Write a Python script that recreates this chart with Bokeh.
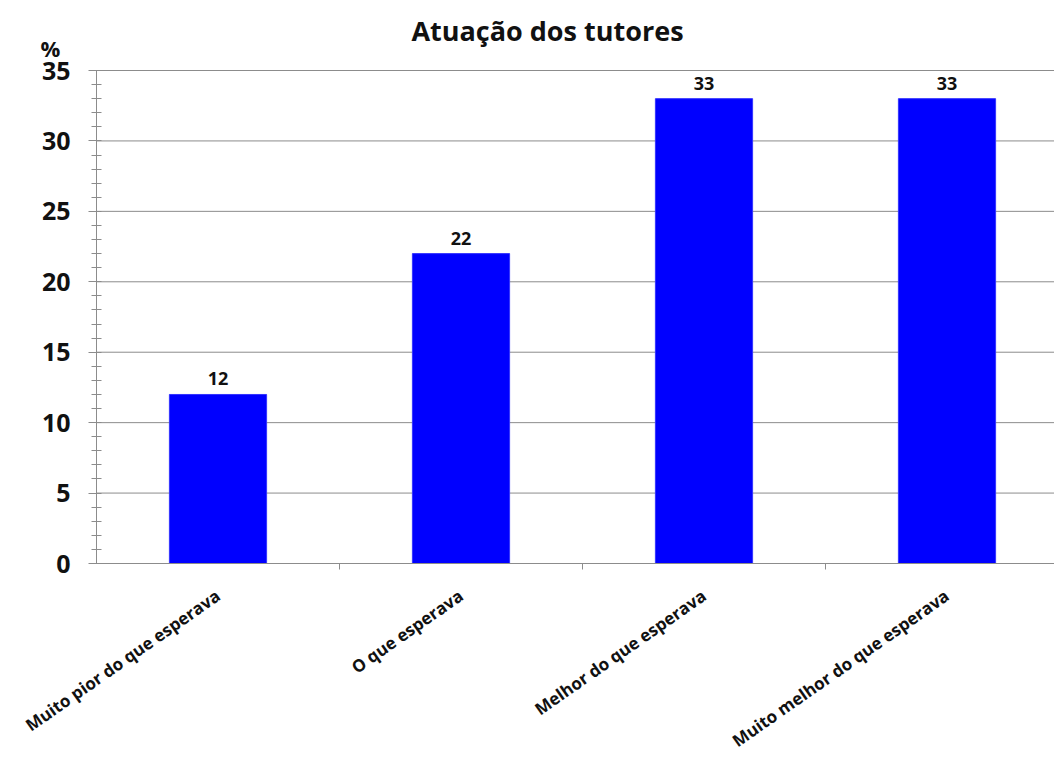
from bokeh.plotting import figure
from bokeh.models import ColumnDataSource, FixedTicker, Range1d, Label
from bokeh.core.properties import value
from bokeh.embed import file_html
from bokeh.resources import INLINE

categories = ["Muito pior do que esperava", "O que esperava", "Melhor do que esperava", "Muito melhor do que esperava"]
percentages = [12, 22, 33, 33]
title_text = "Atuação dos tutores"
y_unit = "%"
y_ticks = [0, 5, 10, 15, 20, 25, 30, 35]

FONT = "Open Sans"
TXT = "#111111"
GRID = "#8c8c8c"

# layout geometry (pixels)
W, H = 1054, 758
AX_X, Y0_PX, YTOP_PX = 96, 563, 70
CAT_PX = 243.0
y_top = y_ticks[-1]
ppu = (Y0_PX - YTOP_PX) / y_top

x_start = -AX_X / CAT_PX
x_end = (W - AX_X) / CAT_PX
y_end = y_top + YTOP_PX / ppu
y_start = -(H - Y0_PX) / ppu

positions = [i + 0.5 for i in range(len(categories))]
src = ColumnDataSource(dict(x=positions, top=percentages, lbl=[str(v) for v in percentages]))

p = figure(width=W, height=H, output_backend="svg", toolbar_location=None,
           x_range=Range1d(x_start, x_end), y_range=Range1d(y_start, y_end),
           min_border=0)
p.outline_line_color = None
p.background_fill_color = "white"
p.xgrid.visible = False
p.ygrid.visible = False

# horizontal gridlines
p.segment(x0=[0] * len(y_ticks), x1=[x_end] * len(y_ticks), y0=y_ticks, y1=y_ticks,
          line_color=GRID, line_width=1)

p.vbar(x="x", top="top", width=0.4, source=src, fill_color="#0000FF", line_color="#3333ff", line_width=1)
p.text(x="x", y="top", text="lbl", source=src, text_align="center", text_baseline="bottom",
       y_offset=-9, text_font=value(FONT), text_font_style="bold", text_font_size="18px", text_color=TXT)

# y axis
ya = p.yaxis[0]
ya.fixed_location = 0
ya.bounds = (0, y_top)
ya.ticker = FixedTicker(ticks=y_ticks, minor_ticks=list(range(0, y_top + 1)))
ya.major_label_text_font = FONT
ya.major_label_text_font_style = "bold"
ya.major_label_text_font_size = "25px"
ya.major_label_text_color = TXT
ya.axis_line_color = GRID
ya.major_tick_line_color = GRID
ya.minor_tick_line_color = GRID
ya.major_tick_out = 8
ya.major_tick_in = 0
ya.minor_tick_out = 5
ya.minor_tick_in = 5
ya.major_label_standoff = 18

# x axis
xa = p.xaxis[0]
xa.fixed_location = 0
xa.bounds = (0, x_end)
xa.ticker = FixedTicker(ticks=positions, minor_ticks=list(range(1, len(categories))))
xa.major_label_overrides = {pos: c for pos, c in zip(positions, categories)}
xa.major_label_orientation = 0.61
xa.major_label_text_font = FONT
xa.major_label_text_font_style = "bold"
xa.major_label_text_font_size = "17px"
xa.major_label_text_color = TXT
xa.axis_line_color = GRID
xa.major_tick_out = 0
xa.major_tick_in = 0
xa.minor_tick_out = 6
xa.minor_tick_in = 0
xa.minor_tick_line_color = GRID
xa.major_label_standoff = 24

# title and unit
p.add_layout(Label(x=(547 - AX_X) / CAT_PX, y=y_top + (YTOP_PX - 30) / ppu, text=title_text,
                   text_align="center", text_baseline="middle",
                   text_font=FONT, text_font_style="bold", text_font_size="27px", text_color=TXT))
p.add_layout(Label(x=(50 - AX_X) / CAT_PX, y=y_top + (YTOP_PX - 47) / ppu, text=y_unit,
                   text_align="center", text_baseline="middle",
                   text_font=FONT, text_font_style="bold", text_font_size="22px", text_color=TXT))

open("out.html", "w").write(file_html(p, INLINE))
